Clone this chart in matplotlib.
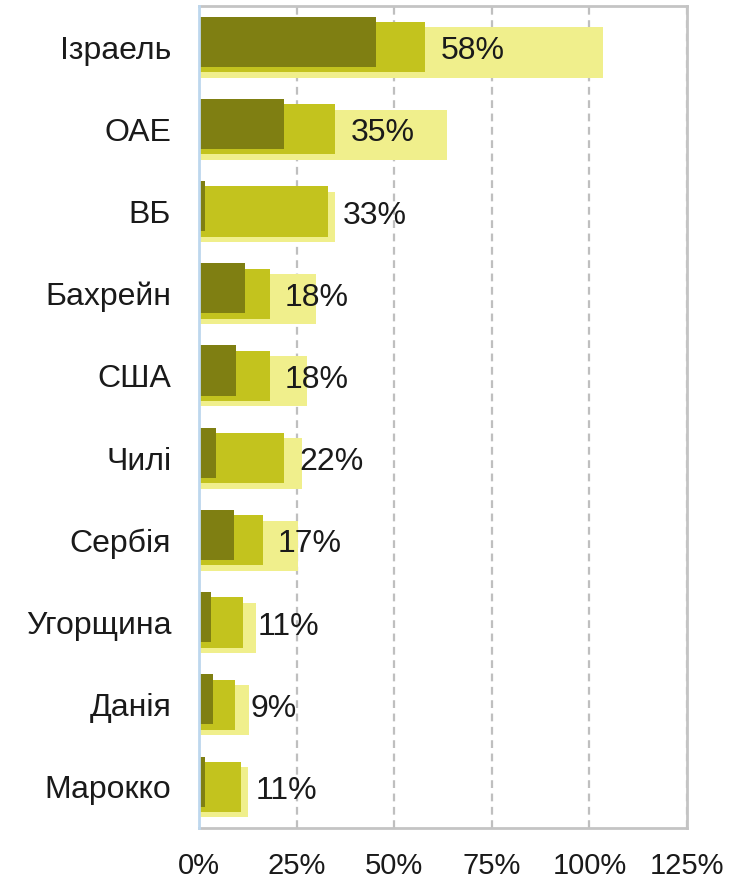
import matplotlib
matplotlib.use("Agg")
import matplotlib.pyplot as plt
from matplotlib.ticker import FuncFormatter

plt.rcParams['font.family'] = 'Liberation Sans'

categories = ["Ізраель", "ОАЕ", "ВБ", "Бахрейн", "США", "Чилі", "Сербія", "Угорщина", "Данія", "Марокко"]
light_vals = [103.4, 63.6, 34.9, 30.0, 27.7, 26.4, 25.4, 14.7, 12.8, 12.6]
medium_vals = [57.9, 34.9, 33.0, 18.1, 18.1, 21.8, 16.3, 11.2, 9.2, 10.7]
dark_vals = [45.3, 21.8, 1.5, 11.8, 9.4, 4.3, 9.0, 3.1, 3.5, 1.6]
value_labels = ["58%", "35%", "33%", "18%", "18%", "22%", "17%", "11%", "9%", "11%"]
x_ticks = [0, 25, 50, 75, 100, 125]

c_light = "#F0EF8C"
c_medium = "#C3C31E"
c_dark = "#7F7F12"

fig = plt.figure(figsize=(7.55, 8.82), dpi=100)
ax = fig.add_axes([0.2636, 0.0612, 0.910 - 0.2636, 0.9932 - 0.0612])

y = list(range(len(categories)))
h = 0.61
off = 0.065
ax.barh([v + off for v in y], light_vals, height=h, color=c_light, zorder=2, linewidth=0)
ax.barh(y, medium_vals, height=h, color=c_medium, zorder=3, linewidth=0)
ax.barh([v - off for v in y], dark_vals, height=h, color=c_dark, zorder=4, linewidth=0)

for i, (m, lab) in enumerate(zip(medium_vals, value_labels)):
    ax.annotate(lab, xy=(m, i + 0.05), xytext=(11, 0), textcoords='offset points',
                va='center', ha='left', fontsize=23, color='#1a1a1a', zorder=5)

ax.set_xlim(0, 125)
ax.set_ylim(len(categories) - 0.5, -0.5)
ax.set_xticks(x_ticks)
ax.xaxis.set_major_formatter(FuncFormatter(lambda v, p: f"{int(v)}%"))
ax.set_yticks(y)
ax.set_yticklabels(categories)
ax.tick_params(axis='x', length=0, pad=17, labelsize=21, colors='#1a1a1a')
ax.tick_params(axis='y', length=0, pad=20, labelsize=23, colors='#1a1a1a')

ax.grid(axis='x', color='#BFBFBF', linestyle=(0, (3.5, 2.5)), linewidth=1.6, zorder=1)
ax.set_axisbelow(True)

for s in ['top', 'right', 'bottom']:
    ax.spines[s].set_color('#C4C4C4')
    ax.spines[s].set_linewidth(2)
ax.spines['left'].set_color('#BDD7EE')
ax.spines['left'].set_linewidth(2)
ax.spines['left'].set_zorder(6)

fig.savefig("out.png", dpi=100)
